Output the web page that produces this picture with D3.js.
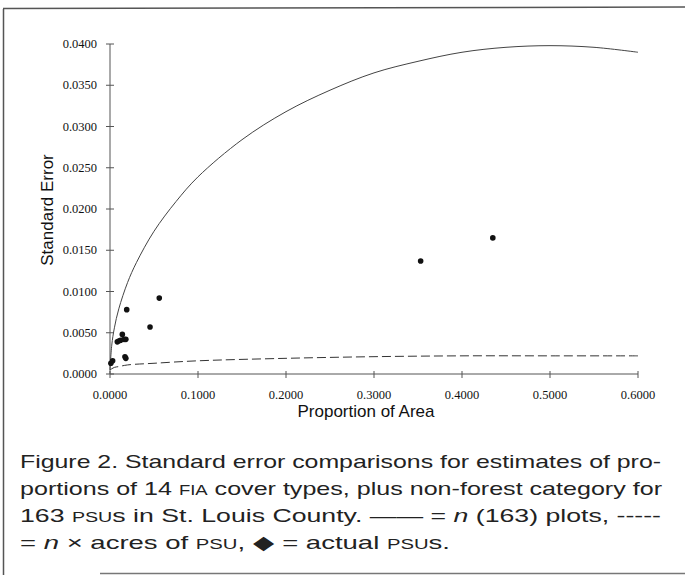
<!DOCTYPE html>
<html>
<head>
<meta charset="utf-8">
<script src="https://cdn.jsdelivr.net/npm/d3@7"></script>
<style>
  body { margin: 0; background: #fff; }
</style>
</head>
<body>
<div id="chart"></div>
<script>
// data
const xTicks = [0, 0.1, 0.2, 0.3, 0.4, 0.5, 0.6]
const yTicks = [0, 0.005, 0.01, 0.015, 0.02, 0.025, 0.03, 0.035, 0.04]
// solid: n (163) plots
const plotsP  = [0, 0.002, 0.005, 0.01, 0.02, 0.03, 0.05, 0.075, 0.1, 0.15, 0.2, 0.25, 0.3, 0.35, 0.4, 0.45, 0.5, 0.55, 0.6]
const plotsSE = [0.0005, 0.0035, 0.0056, 0.0079, 0.0111, 0.0135, 0.0173, 0.0209, 0.0239, 0.0284, 0.0318, 0.0344, 0.0365, 0.0379, 0.0390, 0.0396, 0.0398, 0.0396, 0.0390]
// dashed: n x acres of PSU
const acresP  = [0, 0.005, 0.01, 0.02, 0.05, 0.1, 0.2, 0.3, 0.4, 0.5, 0.6]
const acresSE = [0.0005, 0.0008, 0.0009, 0.0011, 0.0013, 0.0016, 0.0019, 0.0021, 0.0022, 0.0022, 0.0022]
// actual PSUs
const psuP  = [0.001, 0.003, 0.0083, 0.010, 0.012, 0.014, 0.016, 0.018, 0.017, 0.018, 0.019, 0.0455, 0.056, 0.353, 0.435]
const psuSE = [0.0013, 0.0016, 0.0039, 0.0040, 0.0041, 0.0048, 0.0042, 0.0042, 0.0021, 0.0019, 0.0078, 0.0057, 0.0092, 0.0137, 0.0165]

const width = 685, height = 575
const svg = d3.select('#chart').append('svg').attr('width', width).attr('height', height)

// frame of the scanned page
svg.append('line').attr('x1', 3.5).attr('y1', 9).attr('x2', 3.5).attr('y2', 575).attr('stroke', '#555').attr('stroke-width', 1.5)
svg.append('line').attr('x1', 3).attr('y1', 8.5).attr('x2', 685).attr('y2', 7).attr('stroke', '#555').attr('stroke-width', 1.5)
svg.append('line').attr('x1', 100).attr('y1', 573.5).attr('x2', 685).attr('y2', 573.5).attr('stroke', '#777').attr('stroke-width', 1.5)

const x = d3.scaleLinear().domain([0, 0.6]).range([110, 638])
const y = d3.scaleLinear().domain([0, 0.04]).range([374, 44])
const fmt = d3.format('.4f')
const axisColor = '#555'

// y axis
svg.append('line').attr('x1', x(0)).attr('x2', x(0)).attr('y1', y(0.04)).attr('y2', y(0)).attr('stroke', axisColor)
yTicks.forEach(t => {
  svg.append('line').attr('x1', x(0) - 4).attr('x2', x(0) + 4).attr('y1', y(t)).attr('y2', y(t)).attr('stroke', axisColor)
  svg.append('text').text(fmt(t)).attr('x', 97).attr('y', y(t) + 4)
    .attr('text-anchor', 'end').attr('font-family', 'Liberation Serif').attr('font-size', 12.5).attr('fill', '#111')
})
// x axis
svg.append('line').attr('x1', x(0)).attr('x2', x(0.6)).attr('y1', y(0)).attr('y2', y(0)).attr('stroke', axisColor)
xTicks.forEach(t => {
  svg.append('line').attr('x1', x(t)).attr('x2', x(t)).attr('y1', y(0) - 3).attr('y2', y(0) + 4).attr('stroke', axisColor)
  svg.append('text').text(fmt(t)).attr('x', x(t)).attr('y', 399)
    .attr('text-anchor', 'middle').attr('font-family', 'Liberation Serif').attr('font-size', 12.5).attr('fill', '#111')
})

// axis titles
svg.append('text').text('Standard Error').attr('transform', 'translate(53,210) rotate(-90)')
  .attr('text-anchor', 'middle').attr('font-family', 'Liberation Sans').attr('font-size', 17).attr('fill', '#111')
svg.append('text').text('Proportion of Area').attr('x', 366).attr('y', 417)
  .attr('text-anchor', 'middle').attr('font-family', 'Liberation Sans').attr('font-size', 17).attr('fill', '#111')

// curves
const line = d3.line().x(d => x(d[0])).y(d => y(d[1])).curve(d3.curveCatmullRom)
svg.append('path').datum(d3.zip(plotsP, plotsSE)).attr('d', line)
  .attr('fill', 'none').attr('stroke', '#444').attr('stroke-width', 1)
svg.append('path').datum(d3.zip(acresP, acresSE)).attr('d', line)
  .attr('fill', 'none').attr('stroke', '#333').attr('stroke-width', 1).attr('stroke-dasharray', '9,4')

// points
svg.selectAll('circle.psu').data(d3.zip(psuP, psuSE)).join('circle').attr('class', 'psu')
  .attr('cx', d => x(d[0])).attr('cy', d => y(d[1])).attr('r', 2.8).attr('fill', '#111')

// caption
const cap = svg.append('g').attr('font-family', 'Liberation Sans').attr('font-size', 19).attr('fill', '#222')
function capLine(yy, len, parts) {
  const t = cap.append('text').attr('x', 20).attr('y', yy)
  parts.forEach(p => {
    const s = t.append('tspan').text(p[0])
    if (p[1] === 'sc') s.attr('font-size', 14)
    if (p[1] === 'i') s.attr('font-style', 'italic')
  })
  if (len) t.attr('textLength', len).attr('lengthAdjust', 'spacingAndGlyphs')
}
capLine(468, 641, [['Figure 2. Standard error comparisons for estimates of pro-']])
capLine(495, 642, [['portions of 14 '], ['FIA', 'sc'], [' cover types, plus non-forest category for']])
capLine(522, 641, [['163 '], ['PSU', 'sc'], ['s in St. Louis County. \u2014\u2014  = '], ['n', 'i'], [' (163) plots, -----']])
capLine(549, 430, [['= '], ['n', 'i'], [' \u00d7  acres of '], ['PSU', 'sc'], [', \u25c6  = actual '], ['PSU', 'sc'], ['s.']])
</script>
</body>
</html>
